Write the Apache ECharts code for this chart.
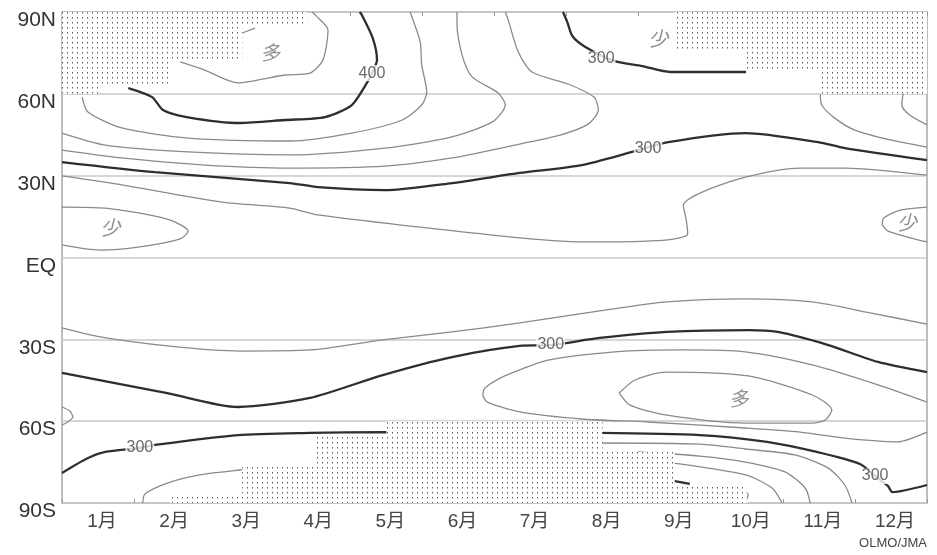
<!DOCTYPE html>
<html><head><meta charset="utf-8">
<script src="https://cdn.jsdelivr.net/npm/echarts@6/dist/echarts.min.js"></script>
<style>html,body{margin:0;padding:0;background:#fff}#c{width:937px;height:555px}</style>
</head><body><div id="c"></div>
<script>
// ---- axis labels ----
const months = ['1月','2月','3月','4月','5月','6月','7月','8月','9月','10月','11月','12月'];
const latLabels = ['90S','60S','30S','EQ','30N','60N','90N'];

// ---- contour lines: [month, latitude] ----
const c425N = [[2.14,71.7],[2.48,68.7],[2.94,64.0],[3.59,66.9],[3.94,67.6],[4.12,72.4],[4.19,83.4],[4.04,88.2],[3.97,90]];
const c425Nbit = [[3.0,82.3],[3.18,84.1]];
const c400N = [[1.42,62.1],[1.75,58.8],[1.90,54.1],[2.23,51.5],[2.97,49.3],[3.59,50.4],[4.15,51.5],[4.52,55.9],[4.73,64.0],[4.80,67.6],[4.87,72.4],[4.81,80.5],[4.66,88.9],[4.63,90]];
const c375N = [[0.78,58.8],[0.86,53.3],[1.33,47.5],[2.25,43.8],[3.66,42.7],[4.52,45.6],[5.22,50.4],[5.49,55.9],[5.56,60.7],[5.49,70.6],[5.47,79.0],[5.36,87.8],[5.33,90]];
const c350N = [[0.5,45.6],[1.10,41.2],[2.25,38.7],[3.66,37.6],[4.98,40.1],[5.91,44.2],[6.47,49.7],[6.65,55.9],[6.55,60.3],[6.19,66.2],[6.05,74.2],[5.98,85.2],[5.98,90]];
const c350NE = [[12.17,60.3],[12.15,55.9],[12.26,52.2],[12.5,48.6]];
const c325N = [[0.5,39.4],[1.33,36.5],[2.48,33.9],[3.66,32.8],[4.98,33.5],[5.91,36.5],[6.85,41.6],[7.41,44.9],[7.80,48.9],[7.94,54.1],[7.88,58.8],[7.52,63.6],[7.02,68.0],[6.83,75.3],[6.69,87.1],[6.65,90]];
const c325NE = [[11.02,60.3],[11.04,55.9],[11.22,51.1],[11.50,46.7],[11.99,43.1],[12.5,40.5]];
const c300N = [[0.5,35.0],[1.79,31.3],[3.66,27.3],[4.05,25.8],[4.98,24.7],[5.91,27.3],[6.85,31.0],[7.71,33.9],[8.41,38.7],[8.91,42.3],[9.98,45.6],[10.99,42.3],[11.36,40.1],[12.5,35.7]];
const c300NTop = [[7.45,90],[7.51,86.3],[7.58,81.2],[7.76,77.2],[8.17,72.0],[8.55,70.2],[8.94,68.0],[9.99,68.0]];
const c275N = [[0.5,29.9],[1.33,26.6],[2.72,20.3],[3.66,18.1],[4.05,15.6],[5.44,11.2],[6.85,7.2],[7.71,5.7],[8.87,6.4],[9.18,8.6],[9.16,13.7],[9.12,19.2],[9.38,24.0],[9.98,29.5],[10.74,32.8],[11.36,32.8],[12.5,30.2]];
const c250NW = [[0.5,18.5],[1.10,18.1],[1.79,15.2],[2.07,13.0],[2.25,9.7],[2.14,6.8],[1.58,3.9],[1.03,2.7],[0.5,4.6]];
const c250NE = [[12.5,18.5],[12.13,17.4],[11.90,14.5],[11.88,12.3],[11.96,9.7],[12.5,5.7]];
const c275S = [[0.5,-25.8],[1.03,-29.1],[1.96,-32.4],[2.97,-34.3],[3.94,-33.9],[4.95,-30.2],[5.91,-27.3],[6.85,-24.0],[7.96,-19.6],[8.89,-16.3],[9.98,-15.2],[10.91,-16.3],[11.71,-20.3],[12.5,-24.4]];
const c300S = [[0.5,-42.3],[1.96,-49.7],[2.94,-54.8],[3.94,-51.5],[4.95,-43.1],[5.91,-36.5],[6.85,-32.4],[7.28,-32.1],[7.96,-29.5],[8.89,-27.3],[10.02,-26.6],[10.43,-27.3],[11.13,-32.1],[11.82,-38.3],[12.5,-42.0]];
const c325S = [[12.5,-53.0],[11.82,-46.7],[10.91,-39.4],[9.98,-34.6],[9.10,-33.9],[8.17,-34.6],[7.24,-37.6],[6.85,-41.2],[6.58,-44.2],[6.37,-47.8],[6.34,-50.4],[6.40,-53.0],[6.85,-56.6],[7.71,-59.2],[8.63,-60.3],[9.98,-62.5],[10.74,-64.0],[11.36,-66.2],[12.08,-67.6],[12.5,-64.0]];
const c325SW = [[0.5,-54.8],[0.61,-56.3],[0.65,-58.5],[0.58,-60.3],[0.5,-61.4]];
const c350S = [[8.23,-49.7],[8.45,-44.9],[8.87,-42.0],[10.02,-43.4],[10.91,-50.4],[11.18,-55.9],[11.09,-59.6],[10.91,-60.7],[9.98,-60.7],[8.87,-57.7],[8.38,-54.1],[8.23,-49.7]];
const c300SS = [[0.5,-79.0],[0.86,-73.5],[1.10,-71.3],[1.58,-69.8],[1.79,-68.7],[2.94,-65.1],[3.94,-64.3],[4.95,-64.0],[7.96,-64.3],[9.35,-65.1],[10.28,-67.6],[10.97,-71.3],[11.57,-75.7],[11.78,-80.1],[11.96,-83.8],[12.02,-86.0],[12.5,-83.4]];
const c275SW = [[1.62,-90],[1.65,-86.7],[1.96,-82.7],[2.41,-79.7],[2.97,-77.9],[3.25,-77.2]];
const c275SE = [[7.9,-68.0],[9.35,-68.4],[9.98,-70.2],[10.67,-72.4],[11.13,-77.2],[11.36,-83.4],[11.46,-90]];
const c250SE = [[8.49,-71.3],[9.35,-72.8],[9.98,-75.0],[10.53,-78.6],[10.81,-84.5],[10.88,-90]];
const c225SE = [[8.96,-75.3],[9.98,-79.7],[10.35,-84.5],[10.49,-90]];
const c200bit = [[9.96,-84.9],[10.02,-87.1],[9.98,-89.3]];
const c200arrow = [[8.98,-81.9],[9.21,-83.0]];

// ---- stippled regions (polygons in [month, latitude]) ----
const stippleNW = [[0.5,90],[3.9,90],[3.9,85],[3,85],[3,72],[2,72],[2,62.5],[1,62.5],[1,60],[0.5,60]];
const stippleNE = [[9,90],[12.5,90],[12.5,60],[11,60],[11,68],[10,68],[10,76],[9,76]];
const stippleS = [[2,-90],[2,-87],[3,-87],[3,-76],[4,-76],[4,-65],[5,-65],[5,-60],[8,-60],[8,-71.3],[9,-71.3],[9,-84],[10,-84],[10,-90]];

// ---- text labels ----
const valueLabels = [['400',4.80,67.6],['300',7.98,72.8],['300',8.63,40.1],['300',7.28,-32.1],['300',1.58,-69.8],['300',11.78,-80.1]];
const wordLabels = [['多',3.39,75.3],['少',8.77,80.5],['少',1.17,11.2],['少',12.22,13.0],['多',9.89,-51.5]];

const thickLines = [c400N, c300N, c300NTop, c300S, c300SS, c200arrow];
const thinLines = [c425N, c425Nbit, c375N, c350N, c350NE, c325N, c325NE, c275N, c250NW, c250NE,
  c275S, c325S, c325SW, c350S, c275SW, c275SE, c250SE, c225SE, c200bit];
const stipples = [stippleNW, stippleNE, stippleS];

const FONT = '"Liberation Sans", Arial, "Noto Sans CJK JP", sans-serif';
const pat = document.createElement('canvas');
pat.width = 5; pat.height = 5;
const g = pat.getContext('2d');
g.fillStyle = '#fff'; g.fillRect(0,0,5,5);
g.fillStyle = '#5a5a5a'; g.fillRect(2,2,1,1.5);

const chart = echarts.init(document.getElementById('c'), null, {renderer:'canvas'});
const series = [];
function lineSeries(d, thick) {
  return {type:'line', data:d, xAxisIndex:0, yAxisIndex:0, symbol:'none', showSymbol:false,
    smooth:0.25, silent:true, animation:false, z:2,
    lineStyle:{color: thick ? '#2e2e2e' : '#8a8a8a', width: thick ? 2.3 : 1.3}};
}
thinLines.forEach(d => series.push(lineSeries(d, false)));
thickLines.forEach(d => series.push(lineSeries(d, true)));
series.push({
  type:'custom', xAxisIndex:0, yAxisIndex:0, z:3, silent:true, animation:false,
  data: stipples.map((p,i) => [1+i, 0]),
  renderItem: function(params, api) {
    const poly = stipples[params.dataIndex];
    return {type:'polygon', shape:{points: poly.map(p => api.coord(p))},
      style:{fill:{image: pat, repeat:'repeat'}, stroke:null}};
  }
});
series.push({
  type:'scatter', xAxisIndex:0, yAxisIndex:0, z:5, silent:true, animation:false,
  symbolSize:0.1, itemStyle:{color:'rgba(0,0,0,0)'},
  data: valueLabels.map(l => [l[1], l[2], l[0]]),
  label:{show:true, position:'inside', formatter: p => p.value[2], fontSize:16, color:'#444',
    fontFamily:FONT, backgroundColor:'#fff', padding:[0,1]}
});
series.push({
  type:'scatter', xAxisIndex:0, yAxisIndex:0, z:5, silent:true, animation:false,
  symbolSize:0.1, itemStyle:{color:'rgba(0,0,0,0)'},
  data: wordLabels.map(l => [l[1], l[2], l[0]]),
  label:{show:true, position:'inside', formatter: p => p.value[2], fontSize:20, color:'#777',
    fontFamily:'"Noto Sans CJK JP", sans-serif', fontStyle:'italic'}
});

chart.setOption({
  animation:false,
  backgroundColor:'#fff',
  grid:{left:62, top:12, width:865, height:491, show:true, borderColor:'#a8a8a8', borderWidth:1.5, backgroundColor:'transparent'},
  xAxis:[
    {type:'value', min:0.5, max:12.5, show:false},
    {type:'category', data:months, position:'bottom', boundaryGap:true,
      axisLine:{show:false}, axisTick:{show:true, inside:true, length:4, lineStyle:{color:'#999'}},
      axisLabel:{fontSize:19, color:'#444', margin:9, fontFamily:FONT, padding:[0,0,0,8]}, splitLine:{show:false}},
    {type:'category', data:months, position:'top', boundaryGap:true,
      axisLine:{show:false}, axisTick:{show:true, inside:true, length:4, lineStyle:{color:'#999'}},
      axisLabel:{show:false}, splitLine:{show:false}}
  ],
  yAxis:{type:'value', min:-90, max:90, interval:30,
    axisLine:{show:false}, axisTick:{show:false},
    splitLine:{show:true, lineStyle:{color:'#c8c8c8', width:1.5}},
    axisLabel:{formatter: v => latLabels[Math.round((v+90)/30)], fontSize:21, color:'#333', margin:6,
      fontFamily:FONT, verticalAlign:'top', lineHeight:17}},
  graphic:[{type:'text', right:10, top:537, style:{text:'OLMO/JMA', font:'13px "Liberation Sans", Arial', fill:'#444'}}],
  series: series
});
</script></body></html>
